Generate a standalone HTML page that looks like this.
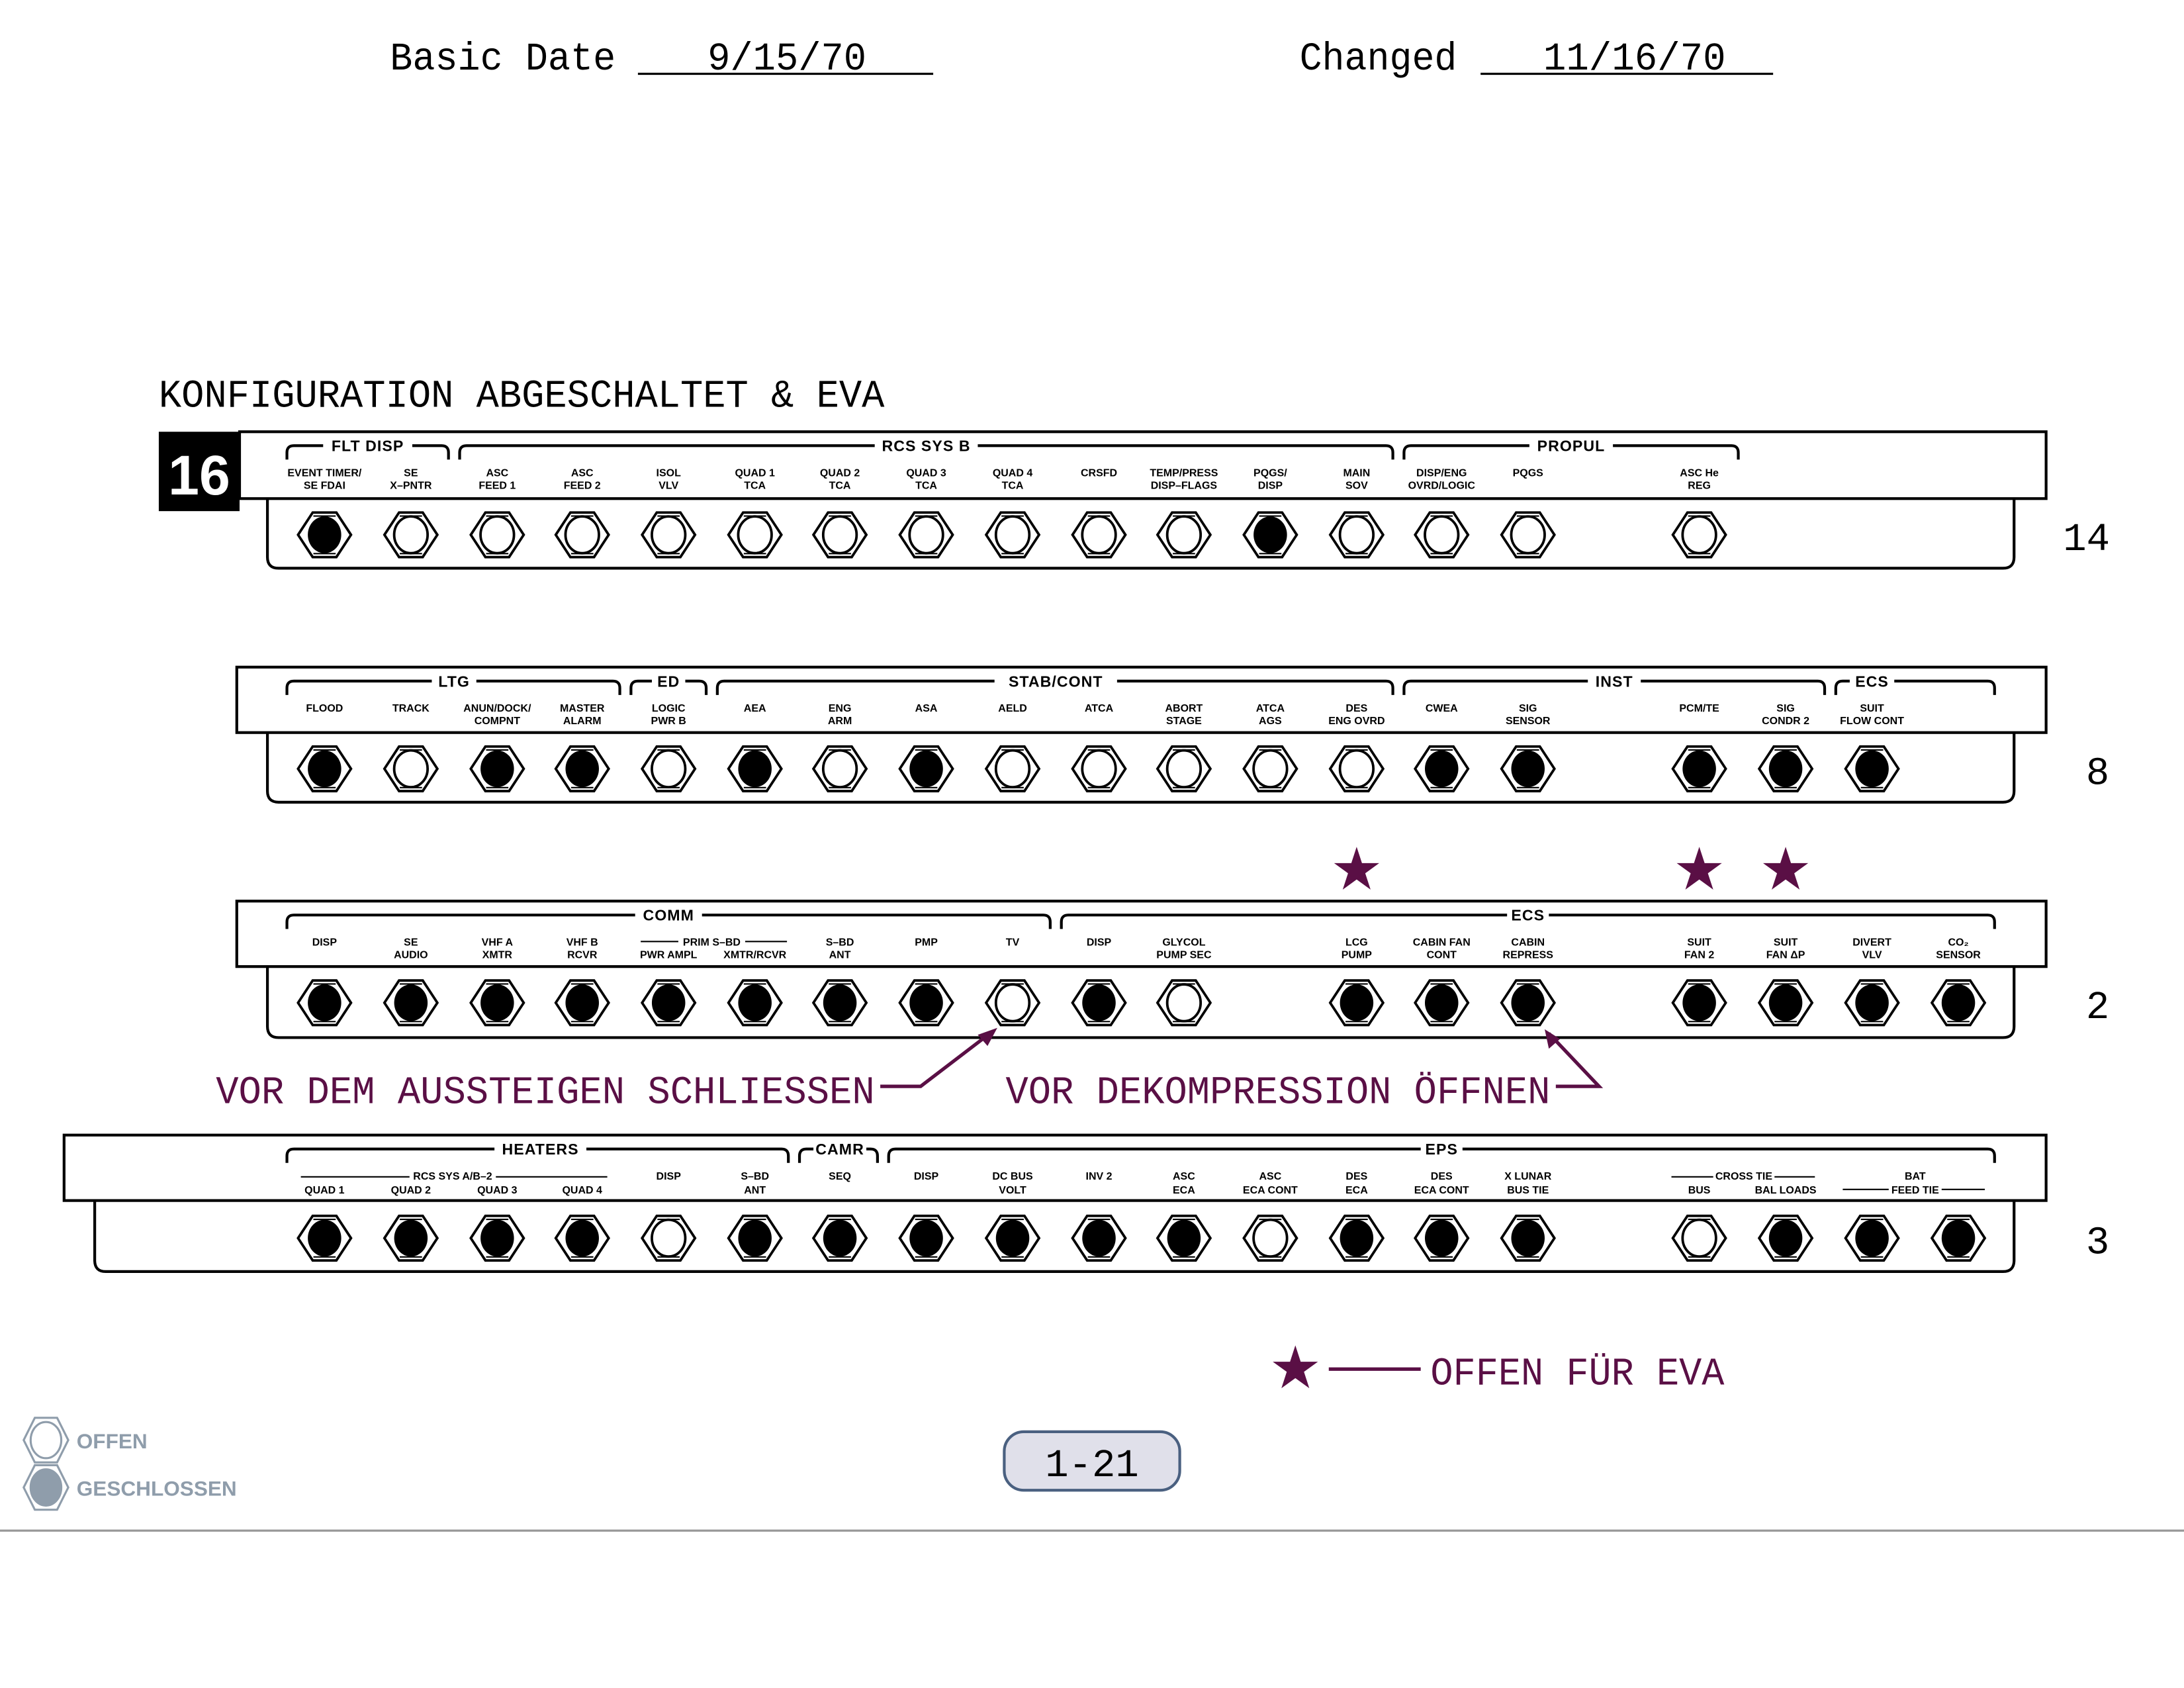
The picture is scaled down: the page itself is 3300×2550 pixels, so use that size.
<!DOCTYPE html>
<html><head><meta charset="utf-8"><style>
html,body{margin:0;padding:0;background:#fff;}
svg{display:block;}
.m{font-family:"Liberation Mono",monospace;}
.l{font-family:"Liberation Sans",sans-serif;font-weight:bold;font-size:7.6px;text-anchor:middle;}
.h{font-family:"Liberation Sans",sans-serif;font-weight:bold;font-size:11px;text-anchor:middle;letter-spacing:0.5px;}
</style></head><body>
<svg width="3300" height="2550" viewBox="0 0 1568 1212" preserveAspectRatio="none" xmlns="http://www.w3.org/2000/svg">
<defs>
<g id="hx"><polygon points="-8.5,-16 8.5,-16 19,0 8.5,16 -8.5,16 -19,0" fill="#fff" stroke="#000" stroke-width="1.8"/><line x1="-8" y1="-13.5" x2="8" y2="-13.5" stroke="#000" stroke-width="1"/><line x1="-8" y1="13.5" x2="8" y2="13.5" stroke="#000" stroke-width="1"/></g>
<g id="o"><use href="#hx"/><ellipse rx="12" ry="13.2" fill="#fff" stroke="#000" stroke-width="1.8"/></g>
<g id="c"><use href="#hx"/><ellipse rx="12" ry="13.2" fill="#000"/></g>
<polygon id="st" points="0,-17 3.82,-5.26 16.2,-5.25 6.18,2.01 10,13.75 0,6.5 -10,13.75 -6.18,2.01 -16.2,-5.25 -3.82,-5.26" fill="#5a0f45"/>
</defs>
<!-- header -->
<g class="m" font-size="28" fill="#000">
<text x="280" y="50" textLength="162" lengthAdjust="spacingAndGlyphs">Basic Date</text>
<text x="508" y="50" textLength="114" lengthAdjust="spacingAndGlyphs">9/15/70</text>
<text x="933" y="50" textLength="113" lengthAdjust="spacingAndGlyphs">Changed</text>
<text x="1108" y="50" textLength="131" lengthAdjust="spacingAndGlyphs">11/16/70</text>
<text x="114" y="292" textLength="521" lengthAdjust="spacingAndGlyphs">KONFIGURATION ABGESCHALTET &amp; EVA</text>
</g>
<line x1="458" y1="53" x2="670" y2="53" stroke="#000" stroke-width="1.5"/>
<line x1="1063" y1="53" x2="1273" y2="53" stroke="#000" stroke-width="1.5"/>
<rect x="114" y="310" width="58" height="57" fill="#000"/>
<text x="143" y="355" font-family="Liberation Sans,sans-serif" font-weight="bold" font-size="40" fill="#fff" text-anchor="middle">16</text>

<g fill="none" stroke="#000" stroke-width="2">
<!-- panels -->
<rect x="172" y="310" width="1297" height="48"/>
<path d="M192 358 V400 Q192 408 200 408 H1438 Q1446 408 1446 400 V358"/>
<rect x="170" y="479" width="1299" height="47"/>
<path d="M192 526 V568 Q192 576 200 576 H1438 Q1446 576 1446 568 V526"/>
<rect x="170" y="647" width="1299" height="47"/>
<path d="M192 694 V737 Q192 745 200 745 H1438 Q1446 745 1446 737 V694"/>
<rect x="46" y="815" width="1423" height="47"/>
<path d="M68 862 V905 Q68 913 76 913 H1438 Q1446 913 1446 905 V862"/>
</g>

<!-- brackets: row template offsets -->
<g fill="none" stroke="#000" stroke-width="2">
<g id="b1">
<path d="M206 330 V325 Q206 320 211 320 H317 Q322 320 322 325 V330"/>
<path d="M330 330 V325 Q330 320 335 320 H995 Q1000 320 1000 325 V330"/>
<path d="M1008 330 V325 Q1008 320 1013 320 H1243 Q1248 320 1248 325 V330"/>
</g>
<g transform="translate(0,169)">
<path d="M206 330 V325 Q206 320 211 320 H440 Q445 320 445 325 V330"/>
<path d="M453 330 V325 Q453 320 458 320 H502 Q507 320 507 325 V330"/>
<path d="M515 330 V325 Q515 320 520 320 H995 Q1000 320 1000 325 V330"/>
<path d="M1008 330 V325 Q1008 320 1013 320 H1305 Q1310 320 1310 325 V330"/>
<path d="M1318 330 V325 Q1318 320 1323 320 H1427 Q1432 320 1432 325 V330"/>
</g>
<g transform="translate(0,337)">
<path d="M206 330 V325 Q206 320 211 320 H749 Q754 320 754 325 V330"/>
<path d="M762 330 V325 Q762 320 767 320 H1427 Q1432 320 1432 325 V330"/>
</g>
<g transform="translate(0,505)">
<path d="M206 330 V325 Q206 320 211 320 H561 Q566 320 566 325 V330"/>
<path d="M574 330 V325 Q574 320 579 320 H625 Q630 320 630 325 V330"/>
<path d="M638 330 V325 Q638 320 643 320 H1427 Q1432 320 1432 325 V330"/>
</g>
</g>
<!-- sub-header lines -->
<g stroke="#000" stroke-width="1">
<line x1="460" y1="676" x2="487" y2="676"/><line x1="535" y1="676" x2="565" y2="676"/>
<line x1="216" y1="845" x2="294" y2="845"/><line x1="356" y1="845" x2="436" y2="845"/>
<line x1="1200" y1="845" x2="1230" y2="845"/><line x1="1274" y1="845" x2="1303" y2="845"/>
<line x1="1323" y1="854" x2="1356" y2="854"/><line x1="1394" y1="854" x2="1425" y2="854"/>
</g>

<!-- header texts with white backing -->
<g fill="#fff">
<rect x="232" y="314" width="64" height="12"/><rect x="628" y="314" width="74" height="12"/><rect x="1098" y="314" width="60" height="12"/>
<rect x="310" y="483" width="32" height="12"/><rect x="468" y="483" width="24" height="12"/><rect x="714" y="483" width="88" height="12"/><rect x="1140" y="483" width="38" height="12"/><rect x="1328" y="483" width="32" height="12"/>
<rect x="456" y="651" width="48" height="12"/><rect x="1082" y="651" width="30" height="12"/>
<rect x="355" y="819" width="66" height="12"/><rect x="584" y="819" width="38" height="12"/><rect x="1020" y="819" width="30" height="12"/>
</g>
<g class="h">
<text x="264" y="324">FLT DISP</text><text x="665" y="324">RCS SYS B</text><text x="1128" y="324">PROPUL</text>
<text x="326" y="493">LTG</text><text x="480" y="493">ED</text><text x="758" y="493">STAB/CONT</text><text x="1159" y="493">INST</text><text x="1344" y="493">ECS</text>
<text x="480" y="661">COMM</text><text x="1097" y="661">ECS</text>
<text x="388" y="829">HEATERS</text><text x="603" y="829">CAMR</text><text x="1035" y="829">EPS</text>
</g>

<!-- labels -->
<g class="l">
<text x="233" y="342">EVENT TIMER/</text><text x="233" y="351">SE FDAI</text>
<text x="295" y="342">SE</text><text x="295" y="351">X–PNTR</text>
<text x="357" y="342">ASC</text><text x="357" y="351">FEED 1</text>
<text x="418" y="342">ASC</text><text x="418" y="351">FEED 2</text>
<text x="480" y="342">ISOL</text><text x="480" y="351">VLV</text>
<text x="542" y="342">QUAD 1</text><text x="542" y="351">TCA</text>
<text x="603" y="342">QUAD 2</text><text x="603" y="351">TCA</text>
<text x="665" y="342">QUAD 3</text><text x="665" y="351">TCA</text>
<text x="727" y="342">QUAD 4</text><text x="727" y="351">TCA</text>
<text x="789" y="342">CRSFD</text>
<text x="850" y="342">TEMP/PRESS</text><text x="850" y="351">DISP–FLAGS</text>
<text x="912" y="342">PQGS/</text><text x="912" y="351">DISP</text>
<text x="974" y="342">MAIN</text><text x="974" y="351">SOV</text>
<text x="1035" y="342">DISP/ENG</text><text x="1035" y="351">OVRD/LOGIC</text>
<text x="1097" y="342">PQGS</text>
<text x="1220" y="342">ASC He</text><text x="1220" y="351">REG</text>

<text x="233" y="511">FLOOD</text>
<text x="295" y="511">TRACK</text>
<text x="357" y="511">ANUN/DOCK/</text><text x="357" y="520">COMPNT</text>
<text x="418" y="511">MASTER</text><text x="418" y="520">ALARM</text>
<text x="480" y="511">LOGIC</text><text x="480" y="520">PWR B</text>
<text x="542" y="511">AEA</text>
<text x="603" y="511">ENG</text><text x="603" y="520">ARM</text>
<text x="665" y="511">ASA</text>
<text x="727" y="511">AELD</text>
<text x="789" y="511">ATCA</text>
<text x="850" y="511">ABORT</text><text x="850" y="520">STAGE</text>
<text x="912" y="511">ATCA</text><text x="912" y="520">AGS</text>
<text x="974" y="511">DES</text><text x="974" y="520">ENG OVRD</text>
<text x="1035" y="511">CWEA</text>
<text x="1097" y="511">SIG</text><text x="1097" y="520">SENSOR</text>
<text x="1220" y="511">PCM/TE</text>
<text x="1282" y="511">SIG</text><text x="1282" y="520">CONDR 2</text>
<text x="1344" y="511">SUIT</text><text x="1344" y="520">FLOW CONT</text>

<text x="233" y="679">DISP</text>
<text x="295" y="679">SE</text><text x="295" y="688">AUDIO</text>
<text x="357" y="679">VHF A</text><text x="357" y="688">XMTR</text>
<text x="418" y="679">VHF B</text><text x="418" y="688">RCVR</text>
<text x="511" y="679">PRIM S–BD</text>
<text x="480" y="688">PWR AMPL</text><text x="542" y="688">XMTR/RCVR</text>
<text x="603" y="679">S–BD</text><text x="603" y="688">ANT</text>
<text x="665" y="679">PMP</text>
<text x="727" y="679">TV</text>
<text x="789" y="679">DISP</text>
<text x="850" y="679">GLYCOL</text><text x="850" y="688">PUMP SEC</text>
<text x="974" y="679">LCG</text><text x="974" y="688">PUMP</text>
<text x="1035" y="679">CABIN FAN</text><text x="1035" y="688">CONT</text>
<text x="1097" y="679">CABIN</text><text x="1097" y="688">REPRESS</text>
<text x="1220" y="679">SUIT</text><text x="1220" y="688">FAN 2</text>
<text x="1282" y="679">SUIT</text><text x="1282" y="688">FAN ΔP</text>
<text x="1344" y="679">DIVERT</text><text x="1344" y="688">VLV</text>
<text x="1406" y="679">CO₂</text><text x="1406" y="688">SENSOR</text>

<text x="325" y="847">RCS SYS A/B–2</text>
<text x="233" y="857">QUAD 1</text><text x="295" y="857">QUAD 2</text><text x="357" y="857">QUAD 3</text><text x="418" y="857">QUAD 4</text>
<text x="480" y="847">DISP</text>
<text x="542" y="847">S–BD</text><text x="542" y="857">ANT</text>
<text x="603" y="847">SEQ</text>
<text x="665" y="847">DISP</text>
<text x="727" y="847">DC BUS</text><text x="727" y="857">VOLT</text>
<text x="789" y="847">INV 2</text>
<text x="850" y="847">ASC</text><text x="850" y="857">ECA</text>
<text x="912" y="847">ASC</text><text x="912" y="857">ECA CONT</text>
<text x="974" y="847">DES</text><text x="974" y="857">ECA</text>
<text x="1035" y="847">DES</text><text x="1035" y="857">ECA CONT</text>
<text x="1097" y="847">X LUNAR</text><text x="1097" y="857">BUS TIE</text>
<text x="1252" y="847">CROSS TIE</text>
<text x="1220" y="857">BUS</text><text x="1282" y="857">BAL LOADS</text>
<text x="1375" y="847">BAT</text><text x="1375" y="857">FEED TIE</text>
</g>

<!-- switches -->
<g>
<use href="#c" x="233" y="384"/><use href="#o" x="295" y="384"/><use href="#o" x="357" y="384"/><use href="#o" x="418" y="384"/><use href="#o" x="480" y="384"/><use href="#o" x="542" y="384"/><use href="#o" x="603" y="384"/><use href="#o" x="665" y="384"/><use href="#o" x="727" y="384"/><use href="#o" x="789" y="384"/><use href="#o" x="850" y="384"/><use href="#c" x="912" y="384"/><use href="#o" x="974" y="384"/><use href="#o" x="1035" y="384"/><use href="#o" x="1097" y="384"/><use href="#o" x="1220" y="384"/>

<use href="#c" x="233" y="552"/><use href="#o" x="295" y="552"/><use href="#c" x="357" y="552"/><use href="#c" x="418" y="552"/><use href="#o" x="480" y="552"/><use href="#c" x="542" y="552"/><use href="#o" x="603" y="552"/><use href="#c" x="665" y="552"/><use href="#o" x="727" y="552"/><use href="#o" x="789" y="552"/><use href="#o" x="850" y="552"/><use href="#o" x="912" y="552"/><use href="#o" x="974" y="552"/><use href="#c" x="1035" y="552"/><use href="#c" x="1097" y="552"/><use href="#c" x="1220" y="552"/><use href="#c" x="1282" y="552"/><use href="#c" x="1344" y="552"/>

<use href="#c" x="233" y="720"/><use href="#c" x="295" y="720"/><use href="#c" x="357" y="720"/><use href="#c" x="418" y="720"/><use href="#c" x="480" y="720"/><use href="#c" x="542" y="720"/><use href="#c" x="603" y="720"/><use href="#c" x="665" y="720"/><use href="#o" x="727" y="720"/><use href="#c" x="789" y="720"/><use href="#o" x="850" y="720"/><use href="#c" x="974" y="720"/><use href="#c" x="1035" y="720"/><use href="#c" x="1097" y="720"/><use href="#c" x="1220" y="720"/><use href="#c" x="1282" y="720"/><use href="#c" x="1344" y="720"/><use href="#c" x="1406" y="720"/>

<use href="#c" x="233" y="889"/><use href="#c" x="295" y="889"/><use href="#c" x="357" y="889"/><use href="#c" x="418" y="889"/><use href="#o" x="480" y="889"/><use href="#c" x="542" y="889"/><use href="#c" x="603" y="889"/><use href="#c" x="665" y="889"/><use href="#c" x="727" y="889"/><use href="#c" x="789" y="889"/><use href="#c" x="850" y="889"/><use href="#o" x="912" y="889"/><use href="#c" x="974" y="889"/><use href="#c" x="1035" y="889"/><use href="#c" x="1097" y="889"/><use href="#o" x="1220" y="889"/><use href="#c" x="1282" y="889"/><use href="#c" x="1344" y="889"/><use href="#c" x="1406" y="889"/>
</g>

<!-- row numbers -->
<g class="m" font-size="28" fill="#000" text-anchor="middle">
<text x="1498" y="395">14</text><text x="1506" y="563">8</text><text x="1506" y="731">2</text><text x="1506" y="900">3</text>
</g>

<!-- stars and annotations -->
<use href="#st" x="974" y="625"/><use href="#st" x="1220" y="625"/><use href="#st" x="1282" y="625"/><use href="#st" x="930" y="983"/>
<g class="m" font-size="28" fill="#5a0f45">
<text x="155" y="792" textLength="473" lengthAdjust="spacingAndGlyphs">VOR DEM AUSSTEIGEN SCHLIESSEN</text>
<text x="722" y="792" textLength="391" lengthAdjust="spacingAndGlyphs">VOR DEKOMPRESSION ÖFFNEN</text>
<text x="1027" y="994" textLength="211" lengthAdjust="spacingAndGlyphs">OFFEN FÜR EVA</text>
</g>
<g stroke="#5a0f45" stroke-width="2.5" fill="none">
<path d="M632 780 H661 L712 741"/>
<path d="M1117 780 H1148 L1112 742"/>
<line x1="954" y1="983" x2="1020" y2="983"/>
</g>
<g fill="#5a0f45">
<polygon points="716,738 702,743 709,751"/>
<polygon points="1109,739 1112,753 1120,746"/>
</g>

<!-- legend -->
<g stroke="#8f9dab" stroke-width="1.5" fill="#fff">
<polygon points="25,1018 41,1018 49,1034 41,1050 25,1050 17,1034"/><ellipse cx="33" cy="1034" rx="11" ry="13"/>
<polygon points="25,1052 41,1052 49,1068 41,1084 25,1084 17,1068"/><ellipse cx="33" cy="1068" rx="11" ry="13" fill="#8f9dab"/>
</g>
<g font-family="Liberation Sans,sans-serif" font-weight="bold" font-size="15" fill="#8f9dab">
<text x="55" y="1040">OFFEN</text><text x="55" y="1074">GESCHLOSSEN</text>
</g>
<rect x="721" y="1028" width="126" height="42" rx="14" fill="#e0e0ea" stroke="#4a6080" stroke-width="2"/>
<text x="784" y="1060" class="m" font-size="28" text-anchor="middle" fill="#000">1-21</text>
<line x1="0" y1="1099" x2="1568" y2="1099" stroke="#999" stroke-width="1.5"/>
</svg>
</body></html>
